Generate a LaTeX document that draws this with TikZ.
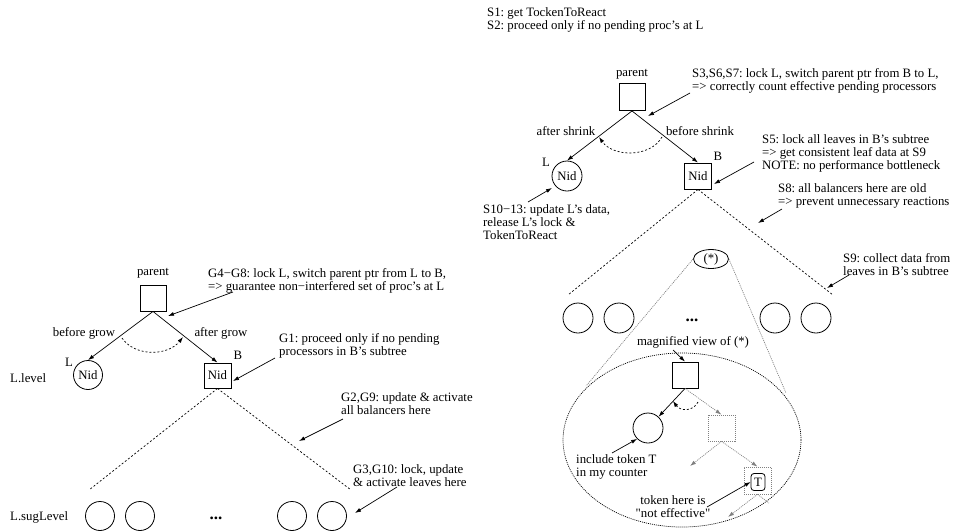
\documentclass[tikz,border=0pt]{standalone}
\usepackage{fontspec}
\setmainfont{Liberation Serif}
% same face without the TeX input mapping, so that " stays a straight quote
\newfontfamily\rawserif{Liberation Serif}
\frenchspacing
\usetikzlibrary{arrows.meta,shapes.geometric}
\begin{document}
\begin{tikzpicture}[x=1pt,y=-1pt,
  font=\fontsize{12.8}{13}\selectfont,
  every node/.style={inner sep=0pt},
  tip/.style={-{Latex[length=6pt,width=4pt]}},
  ptr/.style={tip, line width=0.7pt},
  sq/.style={draw, line width=0.9pt, minimum width=26pt, minimum height=26pt},
  nd/.style={draw, circle, line width=0.8pt, minimum size=29pt},
  lbl/.style={align=left, anchor=west},
  ellipsis/.style={anchor=base, font=\fontsize{17}{17}\selectfont\bfseries},
  tree/.style={line width=0.7pt, dash pattern=on 2pt off 2pt},
  ghost/.style={gray, line width=0.7pt, dash pattern=on 1pt off 1pt},
  ghostbox/.style={draw, gray, line width=0.7pt, dash pattern=on 1pt off 1pt, minimum width=27pt, minimum height=26pt},
]
\useasboundingbox (0,0) rectangle (956,531);

% ---------------- grow ----------------
\node (pL) at (153,273) {parent};
\node[sq] (rootL) at (153,298) {};
\node[nd] (nL) at (88,375) {Nid};
\node (labL) at (69,362) {L};
\node[sq, minimum width=27pt, minimum height=25pt] (bL) at (217.5,375.5) {Nid};
\node (labB) at (238,355) {B};
\node[anchor=west] (lvl) at (10,378) {L.level};
\node[anchor=west] (sub) at (10,517) {L.sugLevel};
\node (bg) at (84,333) {before grow};
\node (ag) at (221,333) {after grow};
\draw[ptr] (rootL.south) -- (nL.north);
\draw[ptr] (rootL.south) -- (bL.north);
\coordinate (cg1) at (122,338);
\coordinate (cg2) at (183,337);
\draw[tree, tip] (cg1) .. controls (135,357) and (168,356) .. (cg2);

\node[lbl] (g48) at (208,280.5) {G4−G8: lock L, switch parent ptr from L to B,\\=> guarantee non−interfered set of proc's at L};
\coordinate (g48a) at (233,292);
\coordinate (g48b) at (168,316);
\draw[ptr] (g48a) -- (g48b);

\node[lbl] (g1) at (279,345.5) {G1: proceed only if no pending\\processors in B's subtree};
\coordinate (g1a) at (275,358);
\coordinate (g1b) at (233,381);
\draw[ptr] (g1a) -- (g1b);

\coordinate (tl1) at (89,490);
\coordinate (tr1) at (351,490);
\draw[tree] (bL.south) -- (tl1);
\draw[tree] (bL.south) -- (tr1);

\node[lbl] (g29) at (341,404) {G2,G9: update \& activate\\all balancers here};
\coordinate (g29a) at (343,419);
\coordinate (g29b) at (299,441);
\draw[ptr] (g29a) -- (g29b);

\node[lbl] (g310) at (353,475.5) {G3,G10: lock, update\\\& activate leaves here};
\coordinate (g310a) at (397,487);
\coordinate (g310b) at (355,513);
\draw[ptr] (g310a) -- (g310b);

\node[nd] (lf1) at (100,516) {};
\node[nd] (lf2) at (140,516) {};
\node[nd] (lf3) at (292,516) {};
\node[nd] (lf4) at (332,516) {};
\node[ellipsis] (dotsL) at (216,519) {...};

% ---------------- shrink ----------------
\node[lbl] (s12) at (487,20) {S1: get TockenToReact\\S2: proceed only if no pending proc's at L};
\node (pR) at (632,74) {parent};
\node[sq, minimum height=27pt] (rootR) at (632,97) {};
\node[nd, minimum size=30pt] (nR) at (567,176) {Nid};
\node (labL2) at (546,162) {L};
\node[sq, minimum width=27pt] (bR) at (698,176) {Nid};
\node (labB2) at (718,156) {B};
\node (as) at (566,131) {after shrink};
\node (bs) at (700,131) {before shrink};
\draw[ptr] (rootR.south) -- (nR.north);
\draw[ptr] (rootR.south) -- (bR.north);
\coordinate (cs1) at (662,137);
\coordinate (cs2) at (599,137);
\draw[tree, tip] (cs1) .. controls (650,158) and (613,157) .. (cs2);

\node[lbl] (s367) at (692,80.5) {S3,S6,S7: lock L, switch parent ptr from B to L,\\=> correctly count effective pending processors};
\coordinate (s367a) at (690,93);
\coordinate (s367b) at (648,116);
\draw[ptr] (s367a) -- (s367b);

\node[lbl] (s5) at (762,153) {S5: lock all leaves in B's subtree\\=> get consistent leaf data at S9\\NOTE: no performance bottleneck};
\coordinate (s5a) at (754,162);
\coordinate (s5b) at (714,184);
\draw[ptr] (s5a) -- (s5b);

\node[lbl] (s1013) at (483,222) {S10−13: update L's data,\\release L's lock \&\\TokenToReact};
\coordinate (s1013a) at (528,202);
\coordinate (s1013b) at (552,188);
\draw[ptr] (s1013a) -- (s1013b);

\coordinate (tl2) at (568,295);
\coordinate (tr2) at (833,295);
\draw[tree] (bR.south) -- (tl2);
\draw[tree] (bR.south) -- (tr2);

\node[lbl] (s8) at (778,196) {S8: all balancers here are old\\=> prevent unnecessary reactions};
\coordinate (s8a) at (782,209);
\coordinate (s8b) at (758,223);
\draw[ptr] (s8a) -- (s8b);

\node[lbl] (s9) at (843,265) {S9: collect data from\\leaves in B's subtree};
\coordinate (s9a) at (849,275);
\coordinate (s9b) at (827,288);
\draw[ptr] (s9a) -- (s9b);

\node[draw, ellipse, line width=0.8pt, minimum width=35pt, minimum height=19pt] (star) at (711,259) {(*)};

\node[nd, minimum size=30pt] (rf1) at (578,318) {};
\node[nd, minimum size=30pt] (rf2) at (619,318) {};
\node[nd, minimum size=30pt] (rf3) at (775,318) {};
\node[nd, minimum size=30pt] (rf4) at (816,318) {};
\node[ellipsis] (dotsR) at (692,321) {...};

% magnified view of (*)
\node[draw, ellipse, line width=0.7pt, dash pattern=on 1pt off 1pt, minimum width=238pt, minimum height=174pt] (mag) at (682,440) {};
\coordinate (magl) at (586,386);
\coordinate (magr) at (786,393);
\draw[ghost] (star.west) -- (magl);
\draw[ghost] (star.east) -- (magr);

\node (magt) at (693,342) {magnified view of (*)};
\coordinate (magta) at (673,350);
\node[sq] (mroot) at (685,375) {};
\draw[ptr] (magta) -- (mroot.north);

\node[nd, minimum size=30pt] (mL) at (648,428) {};
\node[ghostbox] (mB) at (721.5,428) {};
\draw[ptr] (mroot.south) -- (mL);
\draw[ghost, tip] (mroot.south) -- (mB.north);
\coordinate (cm1) at (698,402);
\coordinate (cm2) at (673,401);
\draw[tree, tip] (cm1) .. controls (693,412) and (680,411) .. (cm2);

\node[ghostbox, minimum width=27pt, minimum height=27pt] (mT) at (757.5,480.5) {};
\node[draw, rounded corners=3pt, line width=0.8pt, minimum width=14pt, minimum height=17pt] (tok) at (758,482) {T};
\coordinate (mBl) at (690,466);
\draw[ghost, tip] (mB.south) -- (mBl);
\draw[ghost, tip] (mB.south) -- (mT.north);
\coordinate (mTl) at (728,517);
\coordinate (mTr) at (769,503);
\draw[ghost, tip] (mT.south) -- (mTl);
\draw[ghost] (mT.south) -- (mTr);

\node[lbl] (incl) at (576,466.5) {include token T\\in my counter};
\coordinate (incla) at (612,453);
\draw[ptr] (incla) -- (mL.south west);

\node[align=center] (tokn) at (673,506.5) {token here is\\{\rawserif "}not effective{\rawserif "}};
\coordinate (tokna) at (707,507);
\draw[ptr] (tokna) -- (tok.west);
\end{tikzpicture}
\end{document}
